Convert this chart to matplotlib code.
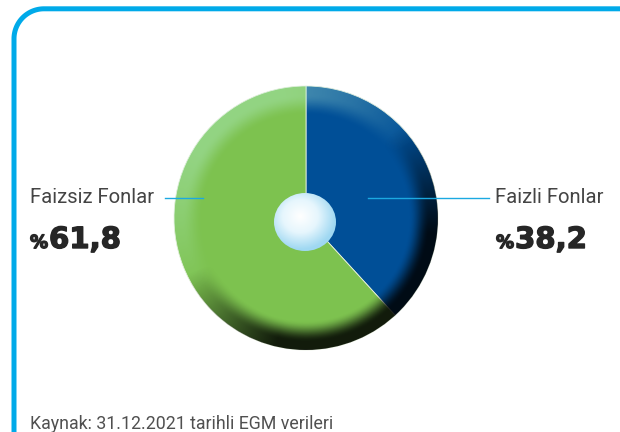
import numpy as np
import matplotlib
matplotlib.use("Agg")
import matplotlib.pyplot as plt
import matplotlib.patheffects as pe
from matplotlib.patches import Circle, Ellipse
from matplotlib.colors import LinearSegmentedColormap

# ---- data ----
categories = ["Faizli Fonlar", "Faizsiz Fonlar"]
values = [38.2, 61.8]
value_labels = ["38,2", "61,8"]
colors = ["#004F97", "#7DC24F"]
source = "Kaynak: 31.12.2021 tarihli EGM verileri"

W, H = 620, 432
fig = plt.figure(figsize=(W / 100, H / 100), dpi=100)
ax = fig.add_axes([0, 0, 1, 1])

def Y(y):
    return H - y

# ---- pie ----
cx, cy, R = 306, Y(218), 132
wedges, _ = ax.pie(values, colors=colors, startangle=90, counterclock=False,
                   center=(cx, cy), radius=R, frame=True,
                   wedgeprops=dict(linewidth=0.6, edgecolor="#e8f0e0"))
ax.set_xlim(0, W)
ax.set_ylim(0, H)
ax.set_aspect("equal")
ax.axis("off")

# ---- frame (single polyline with rounded corner) ----
fc = "#00AAE9"
lw = 3.6
rad = 30
fx, fy = 14, 8.8
t = np.linspace(np.pi, np.pi / 2, 40)
arc_x = fx + rad + rad * np.cos(t)
arc_y = Y(fy + rad) + rad * np.sin(t)
px = np.concatenate([[fx], arc_x, [W + 5]])
py = np.concatenate([[-5], arc_y, [Y(fy)]])
ax.plot(px, py, color=fc, lw=lw, solid_capstyle="butt", solid_joinstyle="round")

# rim shading
n = 400
xs = np.linspace(cx - R, cx + R, n)
ys = np.linspace(cy - R, cy + R, n)
XX, YY = np.meshgrid(xs, ys)
rr = np.hypot(XX - cx, YY - cy) / R
th = np.arctan2(YY - cy, XX - cx)
rim = np.clip((rr - 0.78) / 0.16, 0, 1)
rim = rim * rim * (3 - 2 * rim)
d = np.cos(th - np.deg2rad(125))
dark = rim * np.clip(-d * 1.2 + 0.2, 0, 1) * 0.86
light = rim * np.clip(d * 1.1, 0, 1) * 0.38
clip = Circle((cx, cy), R, transform=ax.transData)
img_d = np.zeros((n, n, 4)); img_d[..., 3] = np.clip(dark, 0, 1)
img_l = np.ones((n, n, 4)); img_l[..., 0] = 0.72; img_l[..., 1] = 0.95; img_l[..., 2] = 0.85
img_l[..., 3] = np.clip(light, 0, 1)
for img in (img_d, img_l):
    im = ax.imshow(img, extent=(cx - R, cx + R, cy - R, cy + R), origin="lower",
                   interpolation="bilinear", zorder=3)
    im.set_clip_path(clip)

# center bubble
ex, ey, ew, eh = 305, Y(222), 62, 58
m = 200
gx = np.linspace(-1, 1, m)
GX, GY = np.meshgrid(gx, gx)
gr = np.clip(np.hypot(GX + 0.15, GY - 0.2) / 1.15, 0, 1)
cmap = LinearSegmentedColormap.from_list("b", ["#ffffff", "#e6f6fd", "#9fd8f2"])
im = ax.imshow(gr, cmap=cmap, vmin=0, vmax=1,
               extent=(ex - ew / 2, ex + ew / 2, ey - eh / 2, ey + eh / 2),
               origin="lower", interpolation="bilinear", zorder=4)
im.set_clip_path(Ellipse((ex, ey), ew, eh, transform=ax.transData))

# ---- leader lines ----
lc = "#1BA9E1"
ax.plot([165, 203], [Y(198), Y(198)], color=lc, lw=1.0, zorder=5)
ax.plot([368, 489], [Y(198), Y(198)], color=lc, lw=1.0, zorder=5)

# ---- labels ----
tfont = dict(family="Roboto", fontsize=14.6, color="#444444")
ax.text(30, Y(203), categories[1], ha="left", va="baseline", **tfont)
ax.text(495, Y(203), categories[0], ha="left", va="baseline", **tfont)

thick = [pe.withStroke(linewidth=1.0, foreground="#262626")]
pfont = dict(family="DejaVu Sans", color="#262626", weight="bold", path_effects=thick)
ax.text(30, Y(248), "%", ha="left", va="baseline", fontsize=13, **pfont)
ax.text(49, Y(248), value_labels[1], ha="left", va="baseline", fontsize=21, **pfont)
ax.text(496, Y(248), "%", ha="left", va="baseline", fontsize=13, **pfont)
ax.text(515, Y(248), value_labels[0], ha="left", va="baseline", fontsize=21, **pfont)

ax.text(30, Y(429), source, ha="left", va="baseline", family="Roboto",
        fontsize=12.8, color="#505050")

fig.savefig("out.png", dpi=100)
